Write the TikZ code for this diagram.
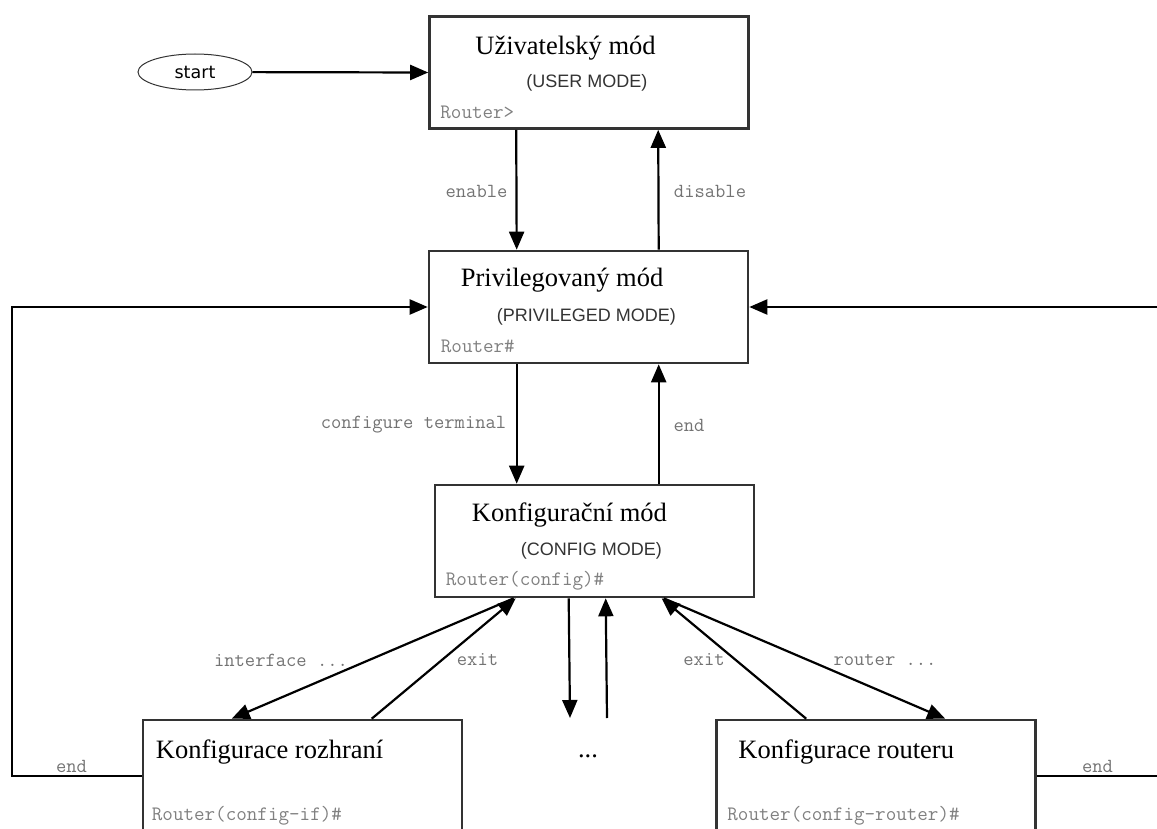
\documentclass[tikz,border=0pt]{standalone}
\usepackage{fontspec}
\setmainfont{Liberation Serif}
\setsansfont{Liberation Sans}
\newfontfamily\startfont{DejaVu Sans}
\usepackage{tikz}
\usetikzlibrary{calc,arrows.meta,shapes.geometric}
\def\monosize{\fontsize{20}{22}\selectfont}

\begin{document}
\begin{tikzpicture}[x=1pt, y=-1pt,
		modebox/.style={draw=black!80, line width=2.6pt, rectangle, inner sep=0pt, minimum width=319, minimum height=112},
		modetitle/.style={anchor=base west, inner sep=0pt, font=\fontsize{26.5}{30}\selectfont},
		modesub/.style={anchor=base west, inner sep=0pt, text=black!80, font=\sffamily\fontsize{18}{20}\selectfont},
		prompt/.style={anchor=base west, inner sep=0pt, text=black!50, font=\ttfamily\fontsize{20.5}{22}\selectfont},
		cmd/.style={inner sep=0pt, text=black!55, font=\ttfamily\monosize},
		arr/.style={line width=2.2pt, -{Triangle[length=18pt,width=15pt]}}]
		%%%%% START %%%%%
		
		\clip (0, 0) rectangle (1157, 829);
		
		\node[draw=black!80, line width=1pt, ellipse, minimum width=114, minimum height=36, font=\startfont\fontsize{17.5}{20}\selectfont] (start) at (195, 72) {start};
		
		\node[modebox] (user) at (589, 72.5) {};
		\node[modebox] (priv) at (588.5, 307) {};
		\node[modebox] (config) at (594.5, 541) {};
		\node[modebox] (cfgif) at (302.5, 776) {};
		\node[modebox] (cfgrouter) at (876, 776) {};
		
		\node[modetitle] (usertitle) at ($(user.north west)+(47, 39)$) {Uživatelský mód};
		\node[modesub] (usersub) at ($(user.north west)+(98, 72)$) {(USER MODE)};
		\node[prompt] (userprompt) at ($(user.north west)+(12, 103)$) {Router>};
		
		\node[modetitle] (privtitle) at ($(priv.north west)+(33, 37)$) {Privilegovaný mód};
		\node[modesub] (privsub) at ($(priv.north west)+(69, 71.5)$) {(PRIVILEGED MODE)};
		\node[prompt] (privprompt) at ($(priv.north west)+(13, 103)$) {Router\#};
		
		\node[modetitle] (configtitle) at ($(config.north west)+(38, 38)$) {Konfigurační mód};
		\node[modesub] (configsub) at ($(config.north west)+(87, 71.5)$) {(CONFIG MODE)};
		\node[prompt] (configprompt) at ($(config.north west)+(12, 102)$) {Router(config)\#};
		
		\node[modetitle] (cfgiftitle) at ($(cfgif.north west)+(14, 40)$) {Konfigurace rozhraní};
		\node[prompt] (cfgifprompt) at ($(cfgif.north west)+(10, 102)$) {Router(config-if)\#};
		
		\node[modetitle] (cfgroutertitle) at ($(cfgrouter.north west)+(23, 40)$) {Konfigurace routeru};
		\node[prompt] (cfgrouterprompt) at ($(cfgrouter.north west)+(12, 102)$) {Router(config-router)\#};
		
		\node[anchor=base, inner sep=0pt, font=\fontsize{26.5}{30}\selectfont] (more) at (588, 757) {...};
		\coordinate (moredown) at (570, 718);
		\coordinate (moreup) at (607, 718);
		\coordinate (loopl) at (12, 500);
		\coordinate (loopr) at (1170, 500);
		
		\draw[arr] (start) -- (user.west);
		
		\draw[arr] ([xshift=88]user.south west) -- ([xshift=89]priv.north west);
		\draw[arr] ([xshift=231]priv.north west) -- ([xshift=230]user.south west);
		\node[cmd] (enable) at (476.5, 191) {enable};
		\node[cmd] (disable) at (710, 191) {disable};
		
		\draw[arr] ([xshift=89]priv.south west) -- ([xshift=83]config.north west);
		\draw[arr] ([xshift=225]config.north west) -- ([xshift=231]priv.south west);
		\node[cmd] (conft) at (413.5, 425) {configure terminal};
		\node[cmd] (endpriv) at (689, 425) {end};
		
		\draw[arr] ([xshift=80]config.south west) -- ([xshift=90]cfgif.north west);
		\draw[arr] ([xshift=230]cfgif.north west) -- ([xshift=82]config.south west);
		\node[cmd] (iface) at (281, 660) {interface ...};
		\node[cmd] (exitif) at (477.5, 660) {exit};
		
		\draw[arr] ([xshift=135]config.south west) -- (moredown);
		\draw[arr] (moreup) -- ([xshift=172]config.south west);
		
		\draw[arr] ([xshift=91]cfgrouter.north west) -- ([xshift=228]config.south west);
		\draw[arr] ([xshift=230]config.south west) -- ([xshift=230]cfgrouter.north west);
		\node[cmd] (exitrouter) at (704, 660) {exit};
		\node[cmd] (routercmd) at (885, 660) {router ...};
		
		\draw[arr] (cfgif.west) -| (loopl) |- (priv.west);
		\draw[arr] (cfgrouter.east) -| (loopr) |- (priv.east);
		\node[cmd] (endif) at (71.5, 766) {end};
		\node[cmd] (endrouter) at (1097.5, 766) {end};
		
		%%%%% END %%%%%
\end{tikzpicture}
\end{document}
